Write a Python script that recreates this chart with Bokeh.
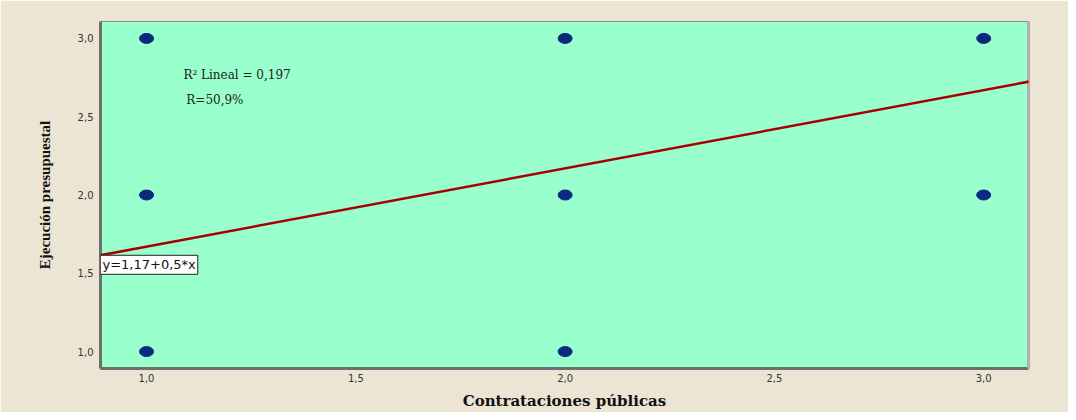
from bokeh.plotting import figure
from bokeh.models import Range1d, FixedTicker, CustomJSTickFormatter, Label, Slope, LinearAxis
from bokeh.embed import file_html
from bokeh.resources import INLINE

# data
contrataciones = [1.0, 1.0, 1.0, 2.0, 2.0, 2.0, 3.0, 3.0]
ejecucion = [3.0, 2.0, 1.0, 3.0, 2.0, 1.0, 3.0, 2.0]
intercept = 1.17
slope = 0.5
ticks = [1.0, 1.5, 2.0, 2.5, 3.0]
x_title = "Contrataciones públicas"
y_title = "Ejecución presupuestal"
r2_text = "R\u00b2 Lineal = 0,197"
r_text = "R=50,9%"
eq_text = "y=1,17+0,5*x"

x0, x1 = 0.89, 3.107
y0, y1 = 0.892, 3.108

p = figure(width=1068, height=412, output_backend="svg", toolbar_location=None,
           x_range=Range1d(x0, x1), y_range=Range1d(y0, y1),
           min_border_left=100, min_border_top=21, min_border_right=40, min_border_bottom=42)
p.background_fill_color = "#99FFCC"
p.border_fill_color = "#ECE5D3"
p.outline_line_color = "#8c8c8c"
p.outline_line_width = 1
p.grid.visible = False

fmt = CustomJSTickFormatter(code="return tick.toFixed(1).replace('.', ',');")
for ax in (p.xaxis[0], p.yaxis[0]):
    ax.ticker = FixedTicker(ticks=ticks)
    ax.formatter = fmt
    ax.major_tick_line_color = None
    ax.minor_tick_line_color = None
    ax.major_tick_out = 0
    ax.major_tick_in = 0
    ax.minor_tick_out = 0
    ax.axis_line_color = "#6e6e6e"
    ax.axis_line_width = 3
    ax.major_label_text_font = "DejaVu Sans"
    ax.major_label_text_font_size = "10px"
    ax.major_label_text_color = "#333333"
    ax.axis_label_text_font_style = "bold"
    ax.axis_label_text_color = "#111111"

p.xaxis.major_label_standoff = 5
p.yaxis.major_label_standoff = 7

p.xaxis.axis_label = x_title
p.xaxis.axis_label_text_font = "DejaVu Serif"
p.xaxis.axis_label_text_font_size = "15px"
p.xaxis.axis_label_standoff = 7

p.yaxis.axis_label = y_title
p.yaxis.axis_label_text_font = "Liberation Serif"
p.yaxis.axis_label_text_font_size = "15px"
p.yaxis.axis_label_standoff = 22

right = LinearAxis(major_tick_line_color=None, minor_tick_line_color=None,
                   major_tick_out=0, major_tick_in=0,
                   major_label_text_font_size="0px", axis_line_color="#b0b0b0",
                   axis_line_width=3, ticker=FixedTicker(ticks=[]))
p.add_layout(right, "right")

p.add_layout(Slope(gradient=slope, y_intercept=intercept, line_color="#A80000", line_width=2.5))

p.ellipse(contrataciones, ejecucion, width=14, height=10, width_units="screen",
          height_units="screen", fill_color="#0B2A7F", line_color="#0B2A7F")

p.add_layout(Label(x=1.088, y=2.765, text=r2_text, text_font="DejaVu Serif",
                   text_font_size="12px", text_color="#222222", text_baseline="middle"))
p.add_layout(Label(x=1.095, y=2.605, text=r_text, text_font="DejaVu Serif",
                   text_font_size="12px", text_color="#222222", text_baseline="middle"))
p.add_layout(Label(x=x0, y=intercept + slope * x0, text=eq_text, text_font="DejaVu Sans",
                   text_font_size="13px", text_color="#111111", text_baseline="top",
                   background_fill_color="white", border_line_color="#222222",
                   border_line_width=1, padding=2))

open("out.html", "w").write(file_html(p, INLINE))
